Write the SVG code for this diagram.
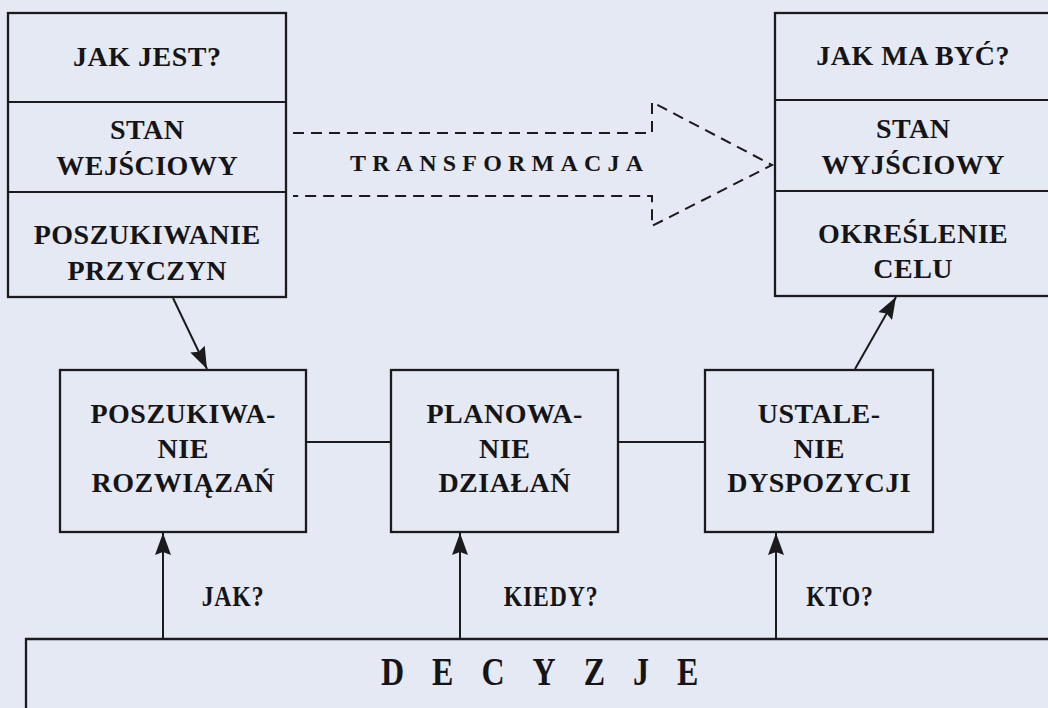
<svg xmlns="http://www.w3.org/2000/svg" width="1048" height="708" viewBox="0 0 1048 708">
  <style>
    .box { fill: none; stroke: #1b1b1d; stroke-width: 2.3; }
    .line { fill: none; stroke: #1b1b1d; stroke-width: 2; }
    .dash { fill: none; stroke: #1b1b1d; stroke-width: 2; stroke-dasharray: 11 7; }
    .lbl { font-family: "Liberation Serif", "Times New Roman", serif; font-weight: bold; font-size: 28px; letter-spacing: 0.5px; fill: #151517; text-anchor: middle; }
    .q { font-family: "Liberation Serif", "Times New Roman", serif; font-weight: bold; font-size: 29px; letter-spacing: 1px; fill: #151517; text-anchor: middle; }
    .tr { font-family: "Liberation Serif", "Times New Roman", serif; font-weight: bold; font-size: 24px; letter-spacing: 6.2px; fill: #151517; }
    .dec { font-family: "Liberation Serif", "Times New Roman", serif; font-weight: bold; font-size: 40px; letter-spacing: 35px; fill: #151517; }
  </style>
  <defs>
    <marker id="head" viewBox="0 0 22 16" refX="22" refY="8" markerWidth="22" markerHeight="16" markerUnits="userSpaceOnUse" orient="auto">
      <path d="M0,0 L22,8 L0,16 L3,8 Z" fill="#1b1b1d"/>
    </marker>
  </defs>

  <rect width="1048" height="708" fill="#e5e9f3"/>

  <!-- current state column -->
  <g id="jak-jest">
    <rect class="box" x="8" y="13" width="278" height="284"/>
    <line class="line" x1="8" y1="102" x2="286" y2="102"/>
    <line class="line" x1="8" y1="192" x2="286" y2="192"/>
    <text class="lbl" x="147.2" y="66">JAK JEST?</text>
    <text class="lbl" x="147.2" y="139">STAN</text>
    <text class="lbl" x="147.2" y="175">WEJŚCIOWY</text>
    <text class="lbl" x="147.2" y="244">POSZUKIWANIE</text>
    <text class="lbl" x="147.2" y="280">PRZYCZYN</text>
  </g>

  <!-- target state column -->
  <g id="jak-ma-byc">
    <rect class="box" x="775" y="13" width="276" height="283"/>
    <line class="line" x1="775" y1="100" x2="1050" y2="100"/>
    <line class="line" x1="775" y1="191" x2="1050" y2="191"/>
    <text class="lbl" x="913.2" y="65">JAK MA BYĆ?</text>
    <text class="lbl" x="913.2" y="138">STAN</text>
    <text class="lbl" x="913.2" y="174">WYJŚCIOWY</text>
    <text class="lbl" x="913.2" y="243">OKREŚLENIE</text>
    <text class="lbl" x="913.2" y="278">CELU</text>
  </g>

  <!-- transformation arrow -->
  <g id="transformacja">
    <path class="dash" d="M293,133 H652 V102 L772,165 L652,226 V196 H293"/>
    <text class="tr" x="350" y="171">TRANSFORMACJA</text>
  </g>

  <!-- decision steps -->
  <g id="poszukiwanie-rozwiazan">
    <rect class="box" x="60" y="370" width="246" height="162"/>
    <text class="lbl" x="183.2" y="423">POSZUKIWA-</text>
    <text class="lbl" x="183.2" y="458">NIE</text>
    <text class="lbl" x="183.2" y="492">ROZWIĄZAŃ</text>
  </g>
  <g id="planowanie-dzialan">
    <rect class="box" x="391" y="370" width="227" height="162"/>
    <text class="lbl" x="504.7" y="423">PLANOWA-</text>
    <text class="lbl" x="504.7" y="458">NIE</text>
    <text class="lbl" x="504.7" y="492">DZIAŁAŃ</text>
  </g>
  <g id="ustalenie-dyspozycji">
    <rect class="box" x="705" y="370" width="228" height="162"/>
    <text class="lbl" x="819.2" y="423">USTALE-</text>
    <text class="lbl" x="819.2" y="458">NIE</text>
    <text class="lbl" x="819.2" y="492">DYSPOZYCJI</text>
  </g>

  <!-- decisions base; the lettering is set narrow -->
  <g id="decyzje">
    <path class="box" d="M26,712 V639 H1050"/>
    <text class="dec" transform="translate(381,685) scale(0.8,1)">DECYZJE</text>
  </g>

  <!-- connectors -->
  <g id="connectors">
    <line class="line" x1="173" y1="298" x2="207" y2="369" marker-end="url(#head)"/>
    <line class="line" x1="855" y1="369" x2="896" y2="297" marker-end="url(#head)"/>
    <line class="line" x1="306" y1="442" x2="391" y2="442"/>
    <line class="line" x1="618" y1="442" x2="705" y2="442"/>
    <line class="line" x1="163" y1="639" x2="163" y2="533" marker-end="url(#head)"/>
    <line class="line" x1="460" y1="639" x2="460" y2="533" marker-end="url(#head)"/>
    <line class="line" x1="776" y1="639" x2="776" y2="533" marker-end="url(#head)"/>
    <text class="q" transform="translate(233,606) scale(0.82,1)">JAK?</text>
    <text class="q" transform="translate(551,606) scale(0.82,1)">KIEDY?</text>
    <text class="q" transform="translate(840,606) scale(0.82,1)">KTO?</text>
  </g>
</svg>
